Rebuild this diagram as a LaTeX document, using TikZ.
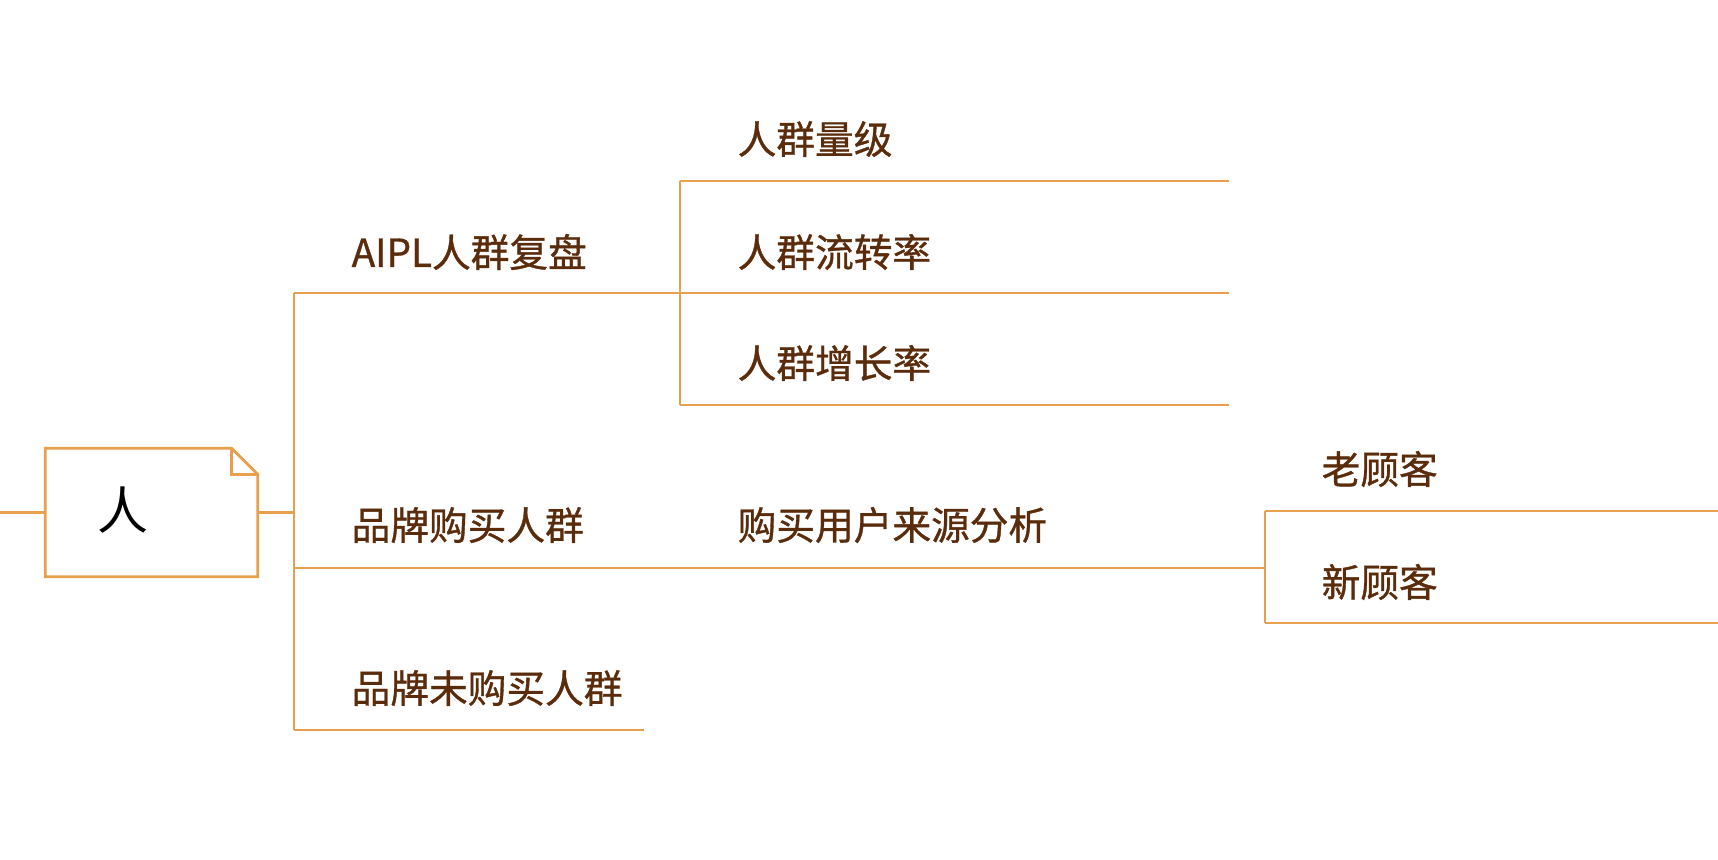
\documentclass[tikz,border=0pt]{standalone}
\usepackage{fontspec}
\setmainfont{Noto Sans CJK SC}
\newfontfamily\lblfont{Noto Sans CJK SC}[FakeBold=0.9]
\usepackage{tikz}
\usepackage{xcolor}
\usetikzlibrary{positioning, calc}
\definecolor{branchorange}{HTML}{E8A04E}
\definecolor{labelbrown}{HTML}{5A2C0C}

\begin{document}
\begin{tikzpicture}[x=0.01cm, y=-0.01cm,
  lbl/.style={anchor=west, inner sep=0pt, text=labelbrown, font=\lblfont\fontsize{11}{13}\selectfont},
  branch/.style={draw=branchorange, line width=0.8pt}]
\useasboundingbox (0,0) rectangle (1718,859);

% Root - folded note
\node[minimum width=2.11cm, minimum height=1.27cm, inner sep=0pt] (root) at (151.5,512.5) {};
\node[inner sep=0pt, font=\fontsize{14.5}{16}\selectfont] (rootlbl) at (123,510) {人};
\draw[branch] (root.south west) -- (root.north west) -- ($(root.north east)+(-26,0)$)
  -- ($(root.north east)+(0,26)$) -- (root.south east) -- cycle;
\draw[branch] ($(root.north east)+(-26,0)$) |- ($(root.north east)+(0,26)$);

% First level
\node[lbl] (aipl) at (351,252) {AIPL人群复盘};
\node[lbl] (buy) at (351,525) {品牌购买人群};
\node[lbl] (nobuy) at (351,688) {品牌未购买人群};

% Second level
\node[lbl] (size) at (737,139) {人群量级};
\node[lbl] (flow) at (737,252) {人群流转率};
\node[lbl] (grow) at (737,363) {人群增长率};
\node[lbl] (source) at (737,525) {购买用户来源分析};

% Third level
\node[lbl] (old) at (1321,469) {老顾客};
\node[lbl] (new) at (1321,582) {新顾客};

% Branch points
\coordinate (in) at (0,512.5);
\coordinate (trunk) at (294,512.5);
\coordinate (aiplA) at (294,293);
\coordinate (aiplB) at (680,293);
\coordinate (buyA) at (294,568);
\coordinate (buyB) at (1265,568);
\coordinate (nobuyA) at (294,730);
\coordinate (nobuyB) at (644,730);
\coordinate (sizeA) at (680,181);
\coordinate (sizeB) at (1229,181);
\coordinate (flowB) at (1229,293);
\coordinate (growA) at (680,405);
\coordinate (growB) at (1229,405);
\coordinate (oldA) at (1265,511);
\coordinate (oldB) at (1718,511);
\coordinate (newA) at (1265,623);
\coordinate (newB) at (1718,623);

% Lines
\draw[branch] (in) -- (root.west);
\draw[branch] (root.east) -- (trunk);
\draw[branch] (aiplA) -- (nobuyA);
\draw[branch] (aiplA) -- (aiplB);
\draw[branch] (buyA) -- (buyB);
\draw[branch] (nobuyA) -- (nobuyB);
\draw[branch] (sizeA) -- (growA);
\draw[branch] (sizeA) -- (sizeB);
\draw[branch] (aiplB) -- (flowB);
\draw[branch] (growA) -- (growB);
\draw[branch] (oldA) -- (newA);
\draw[branch] (oldA) -- (oldB);
\draw[branch] (newA) -- (newB);
\end{tikzpicture}
\end{document}
